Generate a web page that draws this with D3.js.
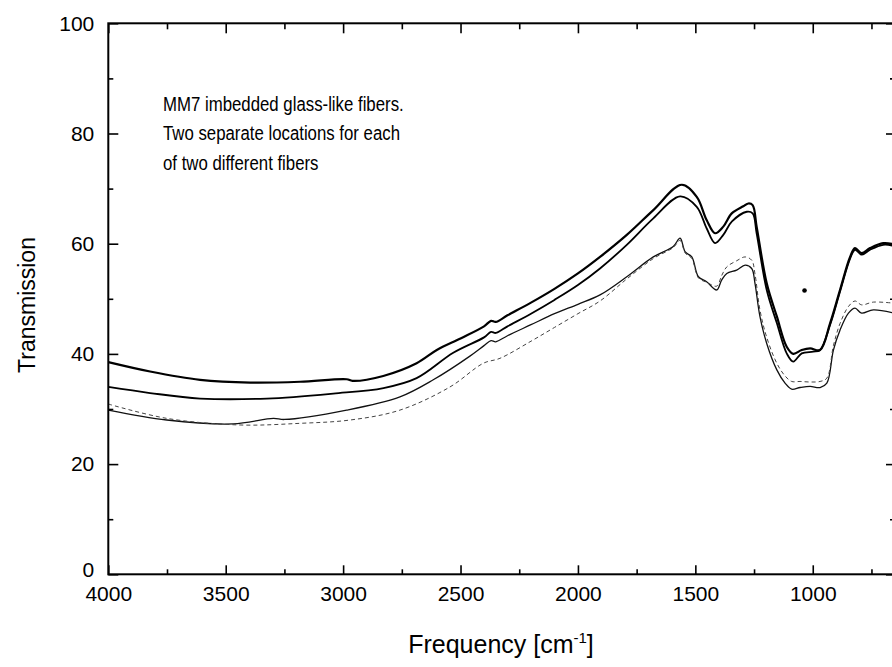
<!DOCTYPE html>
<html>
<head>
<meta charset="utf-8">
<script src="https://cdn.jsdelivr.net/npm/d3@7"></script>
<style>
  html, body { margin: 0; padding: 0; background: #fff; }
  svg { display: block; }
  text { font-family: "Liberation Sans", Arial, sans-serif; fill: #000; }
</style>
</head>
<body>
<svg id="chart" width="892" height="667"></svg>
<script>
// ---------------- data ----------------
const xTicksMajor = [4000, 3500, 3000, 2500, 2000, 1500, 1000];
const xTicksMinor = [3750, 3250, 2750, 2250, 1750, 1250, 750];
const yTicksMajor = [0, 20, 40, 60, 80, 100];
const yTicksMinor = [10, 30, 50, 70, 90];

const noteLines = [
  "MM7 imbedded glass-like fibers.",
  "Two separate locations for each",
  "of two different fibers"
];

// fiber 1, location 1 (top, heavy solid)
const fiber1aFreq = [4000, 3822, 3609, 3396, 3183, 2985, 2960, 2829, 2687, 2601, 2500, 2400, 2370, 2350, 2300, 2200, 2100, 2000, 1906, 1792, 1679, 1558, 1494, 1452, 1416, 1381, 1345, 1296, 1274, 1256, 1239, 1196, 1153, 1111, 1083, 1047, 1011, 969, 926, 884, 841, 820, 792, 756, 700, 654];
const fiber1aT    = [38.5, 36.8, 35.3, 34.8, 34.95, 35.4, 35.1, 36.0, 38.3, 40.7, 42.8, 45.0, 46.0, 45.8, 47.0, 49.3, 51.8, 54.6, 57.6, 61.6, 66.1, 70.7, 68.5, 64.3, 61.9, 63.1, 65.5, 66.8, 67.3, 67.0, 63.1, 52.8, 46.8, 41.3, 40.0, 40.7, 41.0, 40.7, 45.6, 51.6, 57.6, 59.2, 58.3, 59.2, 60.1, 59.9];

// fiber 1, location 2 (solid)
const fiber1bFreq = [4000, 3822, 3609, 3325, 3042, 2828, 2687, 2531, 2400, 2370, 2350, 2300, 2200, 2100, 2000, 1906, 1792, 1679, 1565, 1494, 1452, 1416, 1381, 1345, 1281, 1256, 1239, 1196, 1153, 1111, 1083, 1047, 998, 969, 926, 884, 841, 820, 792, 756, 700, 654];
const fiber1bT    = [34.0, 32.9, 31.9, 31.9, 32.8, 33.8, 35.6, 40.2, 43.0, 44.0, 43.8, 45.0, 47.3, 49.8, 52.5, 55.5, 59.8, 64.6, 68.6, 66.7, 62.8, 60.1, 61.6, 64.0, 65.8, 65.5, 61.9, 51.6, 45.6, 40.1, 38.6, 40.1, 40.4, 40.7, 45.3, 51.3, 57.3, 58.9, 58.0, 58.9, 59.8, 59.6];

// fiber 2, location 1 (thin solid)
const fiber2aFreq = [4000, 3751, 3468, 3297, 3250, 2985, 2758, 2616, 2460, 2400, 2370, 2350, 2300, 2200, 2100, 2000, 1906, 1792, 1679, 1594, 1565, 1543, 1515, 1487, 1452, 1409, 1388, 1366, 1324, 1288, 1260, 1246, 1225, 1196, 1153, 1118, 1090, 1054, 1011, 969, 940, 912, 884, 848, 820, 792, 742, 654];
const fiber2aT    = [29.8, 28.0, 27.3, 28.3, 28.1, 29.8, 32.2, 35.3, 39.6, 41.5, 42.4, 42.2, 43.3, 45.3, 47.3, 49.0, 50.7, 54.0, 57.6, 59.5, 61.0, 58.5, 57.6, 54.0, 53.1, 51.6, 53.4, 54.6, 55.2, 56.1, 55.5, 52.8, 46.8, 41.9, 37.1, 34.7, 33.6, 33.9, 34.1, 33.9, 34.7, 40.7, 44.3, 47.4, 48.3, 47.4, 48.0, 47.4];

// fiber 2, location 2 (dashed)
const fiber2bFreq = [4000, 3751, 3439, 3183, 2970, 2758, 2545, 2403, 2332, 2200, 2100, 2000, 1906, 1792, 1679, 1594, 1565, 1543, 1515, 1487, 1452, 1409, 1388, 1366, 1324, 1288, 1260, 1246, 1225, 1196, 1153, 1118, 1090, 1054, 1011, 969, 940, 912, 884, 848, 820, 792, 742, 654];
const fiber2bT    = [30.9, 28.3, 27.1, 27.4, 28.0, 29.8, 34.0, 38.3, 39.2, 42.3, 44.8, 47.3, 49.6, 53.6, 57.3, 59.3, 60.6, 58.3, 57.3, 53.8, 53.0, 52.3, 54.2, 55.8, 56.9, 57.6, 57.0, 54.5, 48.0, 43.0, 38.3, 36.0, 35.0, 35.0, 34.9, 35.0, 35.6, 41.5, 45.5, 48.6, 49.6, 48.9, 49.4, 49.2];

// stray spot on the scan
const speckFreq = [1035];
const speckT = [51.5];

// ---------------- drawing ----------------
const svg = d3.select("#chart");
const padL = 108.3, padR = 894, padT = 23.3, padB = 574.3;

const x = d3.scaleLinear().domain([4000, 654]).range([padL, padR]);
const y = d3.scaleLinear().domain([0, 100]).range([padB, padT]);

const series = [
  { f: fiber1aFreq, t: fiber1aT, w: 2.2, dash: null, color: "#000" },
  { f: fiber1bFreq, t: fiber1bT, w: 1.8, dash: null, color: "#000" },
  { f: fiber2aFreq, t: fiber2aT, w: 1.3, dash: null, color: "#111" },
  { f: fiber2bFreq, t: fiber2bT, w: 1.0, dash: "4,3", color: "#444" }
];

const line = d3.line()
  .x(d => x(d[0]))
  .y(d => y(d[1]))
  .curve(d3.curveCatmullRom.alpha(0.5));

const plot = svg.append("g");
series.forEach(s => {
  const pts = s.f.map((f, i) => [f, s.t[i]]);
  plot.append("path")
    .attr("d", line(pts))
    .attr("fill", "none")
    .attr("stroke", s.color)
    .attr("stroke-width", s.w)
    .attr("stroke-linejoin", "round")
    .attr("stroke-dasharray", s.dash);
});

plot.selectAll("circle.speck")
  .data(speckFreq.map((f, i) => [f, speckT[i]]))
  .join("circle")
  .attr("class", "speck")
  .attr("cx", d => x(d[0]))
  .attr("cy", d => y(d[1]))
  .attr("r", 2.3)
  .attr("fill", "#000");

// axes (ticks inward)
function styleAxis(g) {
  g.select(".domain").remove();
  g.selectAll("line").attr("stroke", "#000").attr("stroke-width", 1.6);
}
const fontSize = 21;

// bottom
const axB = svg.append("g").attr("transform", `translate(0,${padB})`)
  .call(d3.axisBottom(x).tickValues(xTicksMajor).tickSize(-9).tickPadding(12).tickFormat(d3.format("d")));
styleAxis(axB);
axB.selectAll("text").attr("font-size", fontSize).attr("font-family", "Liberation Sans, Arial, sans-serif").attr("fill", "#000");
svg.append("g").attr("transform", `translate(0,${padB})`)
  .call(d3.axisBottom(x).tickValues(xTicksMinor).tickSize(-5).tickFormat(""))
  .call(styleAxis);

// top
svg.append("g").attr("transform", `translate(0,${padT})`)
  .call(d3.axisTop(x).tickValues(xTicksMajor).tickSize(-10).tickFormat(""))
  .call(styleAxis);
svg.append("g").attr("transform", `translate(0,${padT})`)
  .call(d3.axisTop(x).tickValues(xTicksMinor).tickSize(-6).tickFormat(""))
  .call(styleAxis);

// left
const axL = svg.append("g").attr("transform", `translate(${padL},0)`)
  .call(d3.axisLeft(y).tickValues(yTicksMajor).tickSize(-10).tickPadding(14).tickFormat(d3.format("d")));
styleAxis(axL);
axL.selectAll("text").attr("font-size", fontSize).attr("font-family", "Liberation Sans, Arial, sans-serif").attr("fill", "#000");
// keep the "0" label just clear of the "4000" label below it
axL.selectAll(".tick").filter(d => d === 0).select("text").attr("dy", "0.1em");
svg.append("g").attr("transform", `translate(${padL},0)`)
  .call(d3.axisLeft(y).tickValues(yTicksMinor).tickSize(-5).tickFormat(""))
  .call(styleAxis);

// right
svg.append("g").attr("transform", `translate(${padR},0)`)
  .call(d3.axisRight(y).tickValues(yTicksMajor).tickSize(-8).tickFormat(""))
  .call(styleAxis);
svg.append("g").attr("transform", `translate(${padR},0)`)
  .call(d3.axisRight(y).tickValues(yTicksMinor).tickSize(-4).tickFormat(""))
  .call(styleAxis);

// frame
svg.append("rect")
  .attr("x", padL).attr("y", padT)
  .attr("width", padR - padL).attr("height", padB - padT)
  .attr("fill", "none").attr("stroke", "#000").attr("stroke-width", 2);

// annotation (condensed, like the scanned original)
const note = svg.append("text")
  .attr("transform", "translate(163,0) scale(0.8,1)")
  .attr("font-size", 21);
noteLines.forEach((t, i) => {
  note.append("tspan").attr("x", 0).attr("y", 111 + i * 29.5).text(t);
});

// axis titles
svg.append("text")
  .attr("transform", "translate(35,305) rotate(-90)")
  .attr("text-anchor", "middle")
  .attr("font-size", 23)
  .text("Transmission");

const xt = svg.append("text")
  .attr("x", 501).attr("y", 653)
  .attr("text-anchor", "middle")
  .attr("font-size", 25);
xt.append("tspan").text("Frequency [cm");
xt.append("tspan").attr("font-size", 15).attr("dy", -10).text("-1");
xt.append("tspan").attr("dy", 10).text("]");
</script>
</body>
</html>
